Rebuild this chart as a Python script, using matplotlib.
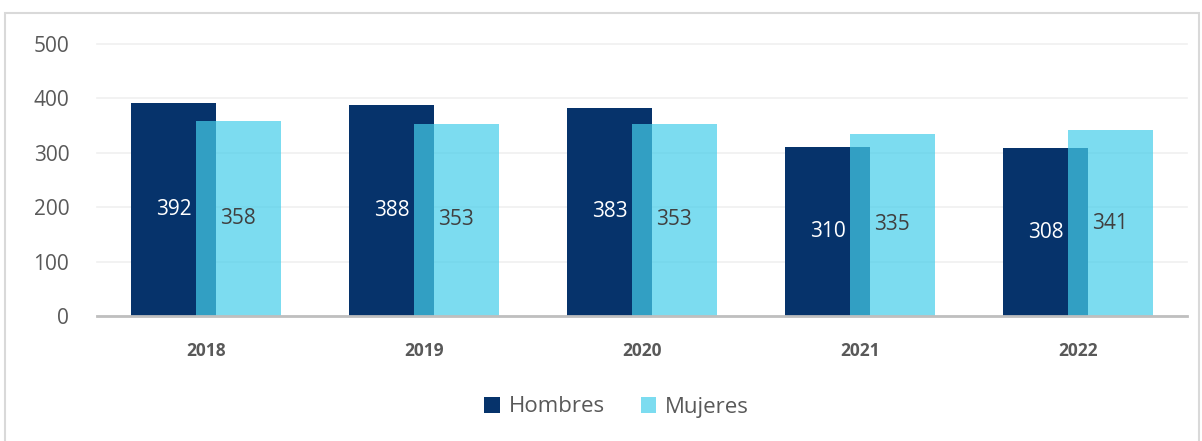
import matplotlib
matplotlib.use("Agg")
import matplotlib.pyplot as plt
from matplotlib.patches import Rectangle
import numpy as np

plt.rcParams["font.family"] = ["Open Sans", "DejaVu Sans"]

years = ["2018", "2019", "2020", "2021", "2022"]
hombres = [392, 388, 383, 310, 308]
mujeres = [358, 353, 353, 335, 341]

NAVY = "#06336b"
CYAN = "#45ceea"
GRAY_TEXT = "#595959"

fig = plt.figure(figsize=(12.02, 4.41), dpi=100)
ax = fig.add_axes([97 / 1202, 125 / 441, 1090 / 1202, 272 / 441])

x = np.arange(len(years))
width = 0.39
offset = 0.148
bars_h = ax.bar(x - offset, hombres, width, color=NAVY, label="Hombres", zorder=2)
bars_m = ax.bar(x + offset, mujeres, width, color=CYAN, alpha=0.7,
                label="Mujeres", zorder=3)

for rect, val in zip(bars_h, hombres):
    ax.text(rect.get_x() + rect.get_width() / 2, val / 2, f"{val}",
            ha="center", va="center", color="white", fontsize=15, zorder=4)
for rect, val in zip(bars_m, mujeres):
    ax.text(rect.get_x() + rect.get_width() / 2, val / 2, f"{val}",
            ha="center", va="center", color="#404040", fontsize=15, zorder=4)

ax.set_xlim(-0.5, len(years) - 0.5)
ax.set_ylim(0, 500)
ax.set_yticks(range(0, 501, 100))
ax.set_xticks(x, labels=years)
ax.yaxis.grid(True, color="#f0f0f0", linewidth=1.2, zorder=0)
ax.set_axisbelow(True)
for side in ("left", "right", "top"):
    ax.spines[side].set_visible(False)
ax.spines["bottom"].set_color("#bfbfbf")
ax.spines["bottom"].set_linewidth(2)
ax.spines["bottom"].set_zorder(5)
ax.tick_params(axis="y", length=0, pad=20, labelsize=15, labelcolor=GRAY_TEXT)
ax.tick_params(axis="x", length=0, pad=19, labelsize=12.5, labelcolor=GRAY_TEXT)
for lbl in ax.get_xticklabels():
    lbl.set_fontweight("bold")
for gl in ax.get_ygridlines():
    gl.set_clip_on(False)

fig.legend(loc="center", bbox_to_anchor=(0.513, 1 - 407 / 441), ncol=2,
           frameon=False, fontsize=16, handlelength=0.7, handleheight=0.7,
           handletextpad=0.4, columnspacing=1.6, labelcolor=GRAY_TEXT)

fig.patches.append(Rectangle((5 / 1202, -0.05), 1194 / 1202, 1.05 - 13 / 441,
                             transform=fig.transFigure, fill=False,
                             edgecolor="#d9d9d9", linewidth=1.5))

fig.savefig("out.png", dpi=100)
